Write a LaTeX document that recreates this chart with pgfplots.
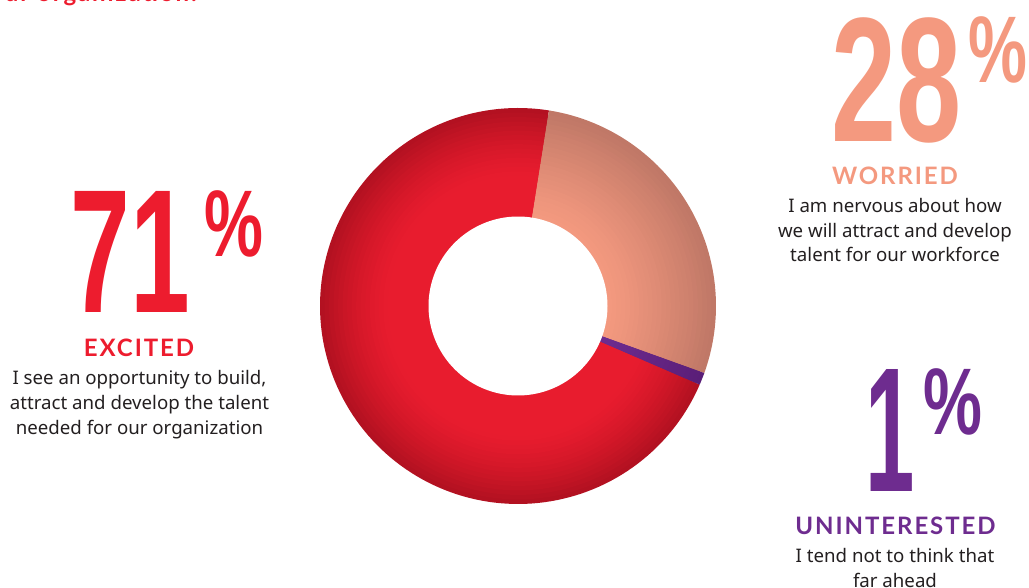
\documentclass[border=0pt]{standalone}
\usepackage{pgfplots}
\pgfplotsset{compat=1.18}
\usepackage{pgfplotstable}
\usepackage{graphicx}
\usepackage{fontspec}
\setmainfont{Noto Sans}
\newfontfamily\numfont{Liberation Sans}
\newfontfamily\headfont{Lato}[LetterSpace=8]
\definecolor{redL}{HTML}{E81C2E}
\definecolor{redD}{HTML}{B01020}
\definecolor{salL}{HTML}{F4997F}
\definecolor{salD}{HTML}{BE7766}
\definecolor{purL}{HTML}{6E2C8F}
\definecolor{purD}{HTML}{5A1E78}
\definecolor{txtRed}{HTML}{ED1C2E}
\definecolor{txtSal}{HTML}{F4997F}
\definecolor{txtPur}{HTML}{6E2C8F}
\definecolor{body}{HTML}{231F20}
\pgfplotstableread{
segment share
Worried 28
Uninterested 1
Excited 71
}\sharetable
\pgfplotstablegetelem{0}{share}\of\sharetable\let\sW\pgfplotsretval%
\pgfplotstablegetelem{1}{share}\of\sharetable\let\sU\pgfplotsretval%
\pgfplotstablegetelem{2}{share}\of\sharetable\let\sE\pgfplotsretval%
\pgfmathsetmacro\aStart{81}%
\pgfmathsetmacro\aW{\aStart-3.6*\sW}%
\pgfmathsetmacro\aU{\aW-3.6*\sU}%
\pgfmathsetmacro\aE{\aU-3.6*\sE}%
% one filled sector per segment, radius #1, shading percentages #2 #3 #4
\newcommand\sect[4]{%
\addplot[draw=none, fill=redD!#2!redL, domain=\aE:\aU, samples=140] ({518+#1*cos(x)},{282+#1*sin(x)}) -- (axis cs:518,282) -- cycle;%
\addplot[draw=none, fill=salD!#3!salL, domain=\aW:\aStart, samples=60] ({518+#1*cos(x)},{282+#1*sin(x)}) -- (axis cs:518,282) -- cycle;%
\addplot[draw=none, fill=purD!#4!purL, domain=\aU:\aW, samples=6] ({518+#1*cos(x)},{282+#1*sin(x)}) -- (axis cs:518,282) -- cycle;%
}
\newcommand\hdr{\headfont\bfseries\fontsize{18pt}{20pt}\selectfont}
\newcommand\bodyf{\fontsize{14pt}{18pt}\selectfont}
\begin{document}
\begin{tikzpicture}
\useasboundingbox (0,0) rectangle (771.75pt,441pt);
\begin{axis}[
  at={(0,0)}, anchor=origin,
  scale only axis, width=771.75pt, height=441pt,
  xmin=0, xmax=1029, ymin=0, ymax=588,
  enlargelimits=false, hide axis, clip=false]
\sect{198.00}{95}{97}{98}
\sect{193.48}{87}{93}{94}
\sect{188.96}{78}{88}{90}
\sect{184.44}{70}{83}{85}
\sect{179.92}{62}{78}{81}
\sect{175.40}{54}{73}{77}
\sect{170.87}{47}{68}{73}
\sect{166.35}{40}{64}{69}
\sect{161.83}{33}{59}{65}
\sect{157.31}{27}{55}{60}
\sect{152.79}{21}{50}{56}
\sect{148.27}{15}{46}{52}
\sect{143.75}{10}{41}{48}
\sect{139.23}{6}{37}{44}
\sect{134.71}{2}{33}{40}
\sect{130.19}{0}{29}{35}
\sect{125.67}{0}{25}{31}
\sect{121.15}{0}{21}{27}
\sect{116.62}{0}{17}{23}
\sect{112.10}{0}{13}{19}
\sect{107.58}{0}{10}{15}
\sect{103.06}{0}{7}{10}
\sect{98.54}{0}{4}{6}
\sect{94.02}{0}{1}{2}
% donut hole
\addplot[draw=none, fill=white, domain=0:360, samples=140] ({518+89.5*cos(x)},{282+89.5*sin(x)}) -- cycle;
% top-left cut text
\node[anchor=base east, inner sep=0, text=txtRed, font=\hdr] at (axis cs:197,586) {needed for our organization.};
% 71 Excited
\node[anchor=base, inner sep=0, text=txtRed, font=\numfont\bfseries\fontsize{132pt}{132pt}\selectfont] at (axis cs:130.5,275) {\scalebox{0.61}[1]{71}};
\node[anchor=base, inner sep=0, text=txtRed, font=\numfont\bfseries\fontsize{71pt}{71pt}\selectfont] at (axis cs:233.5,331) {\scalebox{0.7}[1]{\%}};
\node[anchor=base, inner sep=0, text=txtRed, font=\hdr] at (axis cs:139,231) {EXCITED};
\node[anchor=base, inner sep=0, text=body, font=\bodyf] at (axis cs:139.5,203) {I see an opportunity to build,};
\node[anchor=base, inner sep=0, text=body, font=\bodyf] at (axis cs:139.5,178) {attract and develop the talent};
\node[anchor=base, inner sep=0, text=body, font=\bodyf] at (axis cs:139.5,153) {needed for our organization};
% 28 Worried
\node[anchor=base, inner sep=0, text=txtSal, font=\numfont\bfseries\fontsize{133pt}{133pt}\selectfont] at (axis cs:897,446) {\scalebox{0.66}[1]{28}};
\node[anchor=base, inner sep=0, text=txtSal, font=\numfont\bfseries\fontsize{71pt}{71pt}\selectfont] at (axis cs:997.5,505) {\scalebox{0.7}[1]{\%}};
\node[anchor=base, inner sep=0, text=txtSal, font=\hdr] at (axis cs:895,403) {WORRIED};
\node[anchor=base, inner sep=0, text=body, font=\bodyf] at (axis cs:895,375) {I am nervous about how};
\node[anchor=base, inner sep=0, text=body, font=\bodyf] at (axis cs:895,350.5) {we will attract and develop};
\node[anchor=base, inner sep=0, text=body, font=\bodyf] at (axis cs:895,326) {talent for our workforce};
% 1 Uninterested
\node[anchor=base, inner sep=0, text=txtPur, font=\numfont\bfseries\fontsize{133pt}{133pt}\selectfont] at (axis cs:890,96) {\scalebox{0.5}[1]{1}};
\node[anchor=base, inner sep=0, text=txtPur, font=\numfont\bfseries\fontsize{71pt}{71pt}\selectfont] at (axis cs:953,153) {\scalebox{0.7}[1]{\%}};
\node[anchor=base, inner sep=0, text=txtPur, font=\hdr] at (axis cs:895.5,53) {UNINTERESTED};
\node[anchor=base, inner sep=0, text=body, font=\bodyf] at (axis cs:895,25) {I tend not to think that};
\node[anchor=base, inner sep=0, text=body, font=\bodyf] at (axis cs:895,0) {far ahead};
\end{axis}
\end{tikzpicture}
\end{document}
